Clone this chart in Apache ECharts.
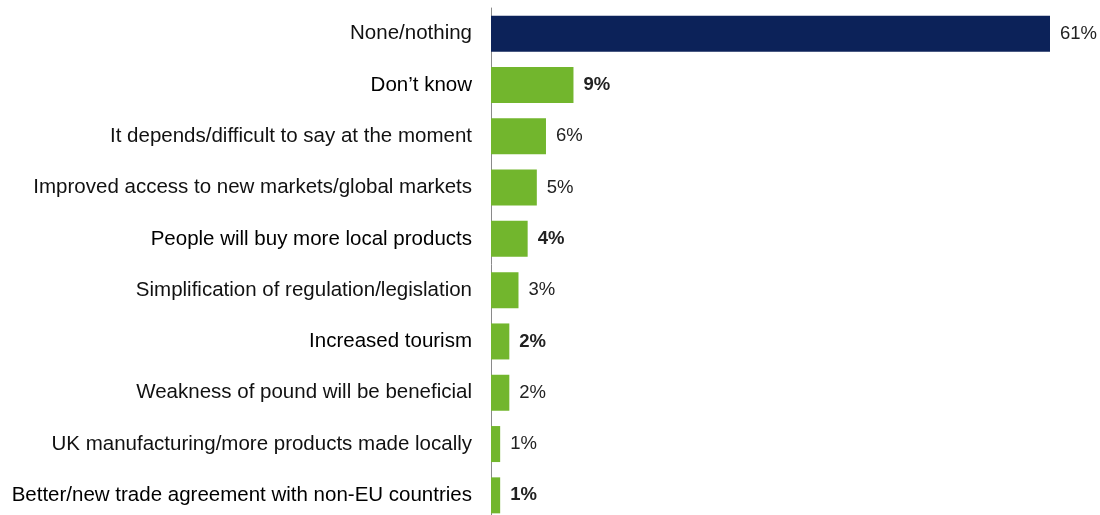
<!DOCTYPE html>
<html>
<head>
<meta charset="utf-8">
<script src="https://cdn.jsdelivr.net/npm/echarts@6/dist/echarts.min.js"></script>
<style>
html,body{margin:0;padding:0;background:#fff;overflow:hidden;}
#chart{width:1100px;height:521px;}
</style>
</head>
<body>
<div id="chart"></div>
<script>
// Responses, top to bottom
const categories = [
  'None/nothing',
  'Don\u2019t know',
  'It depends/difficult to say at the moment',
  'Improved access to new markets/global markets',
  'People will buy more local products',
  'Simplification of regulation/legislation',
  'Increased tourism',
  'Weakness of pound will be beneficial',
  'UK manufacturing/more products made locally',
  'Better/new trade agreement with non-EU countries'
];
const values = [61, 9, 6, 5, 4, 3, 2, 2, 1, 1];
const boldRows = [1, 4, 6, 9];

const NAVY = '#0c2259';
const GREEN = '#72b62d';
const FONT = 'Liberation Sans, Arial, sans-serif';

const chart = echarts.init(document.getElementById('chart'));

const data = values.map((v, i) => ({
  value: v,
  itemStyle: { color: i === 0 ? NAVY : GREEN },
  label: { fontWeight: boldRows.includes(i) ? 'bold' : 'normal' }
}));

chart.setOption({
  animation: false,
  grid: { left: 491, right: 50, top: 8, bottom: 0, containLabel: false },
  xAxis: {
    type: 'value', min: 0, max: 61, show: false
  },
  yAxis: {
    type: 'category',
    inverse: true,
    data: categories,
    axisLine: { show: true, lineStyle: { color: '#8a8a8a', width: 1 } },
    axisTick: { show: false },
    axisLabel: {
      margin: 19,
      fontFamily: FONT,
      fontSize: 20.5,
      color: '#111',
      formatter: (v) => {
        const i = categories.indexOf(v);
        return boldRows.includes(i) ? '{b|' + v + '}' : v;
      },
      rich: { b: { fontFamily: FONT, fontSize: 20.5, color: '#000' } }
    }
  },
  series: [{
    type: 'bar',
    data: data,
    barWidth: 36,
    label: {
      show: true,
      position: 'right',
      distance: 10,
      formatter: '{c}%',
      fontFamily: FONT,
      fontSize: 18.5,
      color: '#222'
    }
  }]
});
</script>
</body>
</html>
